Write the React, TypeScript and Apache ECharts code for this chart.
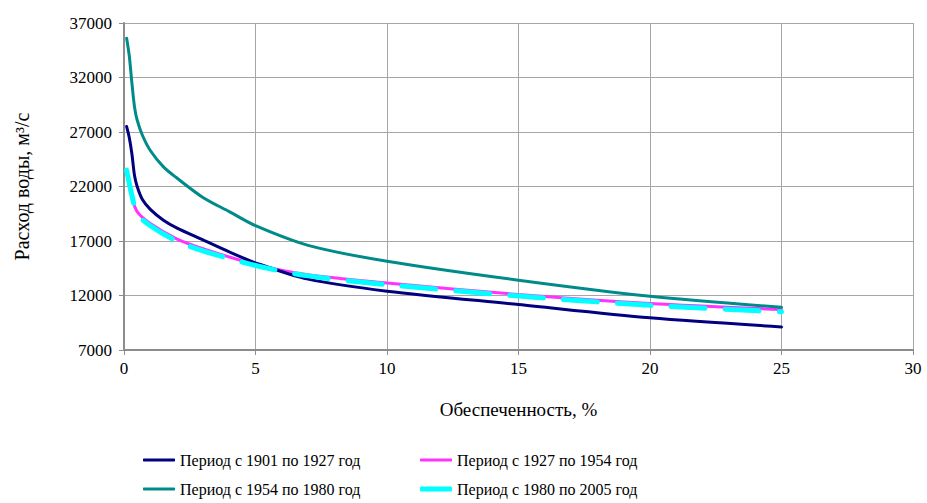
import React, { useEffect, useRef } from "react";
import * as echarts from "echarts";

const xNavy = [0.1, 0.2, 0.3, 0.4, 0.5, 0.7, 1, 1.5, 2, 3, 4, 5, 7, 10, 15, 20, 25];
const yNavy = [27500, 26500, 25000, 23000, 22000, 20800, 19900, 18900, 18200, 17100, 16000, 15000, 13500, 12400, 11170, 9950, 9120];

const xTeal = [0.1, 0.2, 0.3, 0.4, 0.5, 0.7, 1, 1.5, 2, 3, 4, 5, 7, 10, 15, 20, 25];
const yTeal = [35600, 34000, 31500, 29300, 28100, 26700, 25300, 23800, 22800, 21000, 19700, 18400, 16600, 15140, 13400, 11930, 10920];

const xMagenta = [0.1, 0.2, 0.3, 0.5, 1, 2, 3, 5, 7, 10, 15, 20, 25];
const yMagenta = [23500, 22000, 21000, 19700, 18600, 17200, 16300, 14850, 13900, 13150, 12090, 11260, 10710];

const xCyan = [0.1, 0.2, 0.3, 0.5, 1, 2, 3, 5, 7, 10, 15, 20, 25];
const yCyan = [23500, 22300, 21200, 19500, 18400, 17000, 16100, 14750, 13800, 13000, 11950, 11100, 10500];

const seriesNames = [
  "Период с 1901 по 1927 год",
  "Период с 1927 по 1954 год",
  "Период с 1954 по 1980 год",
  "Период с 1980 по 2005 год",
];

const zip = (xs: number[], ys: number[]) => xs.map((x, i) => [x, ys[i]]);

export default function App() {
  const ref = useRef<HTMLDivElement>(null);
  useEffect(() => {
    if (!ref.current) return;
    const chart = echarts.init(ref.current, null, { renderer: "svg" });
    const font = "Liberation Serif";
    const mkLegend = (name: string, left: number, top: number, color: string, h: number) => ({
      data: [{ name, icon: "roundRect", itemStyle: { color } }],
      left,
      top,
      itemWidth: 32,
      itemHeight: h,
      itemGap: 4,
      textStyle: { fontFamily: font, fontSize: 16, color: "#000" },
      padding: 0,
    });
    const line = (name: string, xs: number[], ys: number[], color: string, width: number, z: number, type: any = "solid") => ({
      name,
      type: "line",
      data: zip(xs, ys),
      smooth: 0.3,
      showSymbol: false,
      symbol: "none",
      lineStyle: { color, width, type, cap: "round" },
      itemStyle: { color },
      z,
    });
    chart.setOption({
      animation: false,
      grid: { left: 124, right: 14, top: 23, bottom: 153 },
      xAxis: {
        type: "value",
        min: 0,
        max: 30,
        interval: 5,
        name: "Обеспеченность, %",
        nameLocation: "middle",
        nameGap: 50,
        nameTextStyle: { fontFamily: font, fontSize: 19, color: "#000" },
        axisLine: { show: true, lineStyle: { color: "#8c8c8c", width: 2 } },
        axisTick: { show: true, length: 5, lineStyle: { color: "#8c8c8c", width: 1 } },
        axisLabel: { fontFamily: font, fontSize: 17, color: "#000", margin: 10, formatter: (v: number) => String(v) },
        splitLine: { show: true, lineStyle: { color: "#a6a6a6", width: 1 } },
      },
      yAxis: {
        type: "value",
        min: 7000,
        max: 37000,
        interval: 5000,
        name: "Расход воды, м³/с",
        nameLocation: "middle",
        nameGap: 92,
        nameRotate: 90,
        nameTextStyle: { fontFamily: font, fontSize: 20, color: "#000" },
        axisLine: { show: true, lineStyle: { color: "#8c8c8c", width: 2 } },
        axisTick: { show: true, length: 5, lineStyle: { color: "#8c8c8c", width: 1 } },
        axisLabel: { fontFamily: font, fontSize: 17, color: "#000", margin: 12, formatter: (v: number) => String(v) },
        splitLine: { show: true, lineStyle: { color: "#a6a6a6", width: 1 } },
      },
      legend: [
        mkLegend(seriesNames[0], 143, 452, "#000080", 3),
        mkLegend(seriesNames[1], 420, 452, "#ff33ff", 3),
        mkLegend(seriesNames[2], 143, 481, "#008b8b", 3),
        mkLegend(seriesNames[3], 420, 481, "#00ffff", 5),
      ],
      series: [
        line(seriesNames[0], xNavy, yNavy, "#000080", 3, 3),
        line(seriesNames[1], xMagenta, yMagenta, "#ff33ff", 3, 2),
        line(seriesNames[2], xTeal, yTeal, "#008b8b", 3, 2),
        line(seriesNames[3], xCyan, yCyan, "#00ffff", 5, 4, [34, 20]),
      ],
    });
    return () => chart.dispose();
  }, []);
  return <div ref={ref} style={{ width: 927, height: 503, position: "absolute", left: 0, top: 0 }} />;
}
